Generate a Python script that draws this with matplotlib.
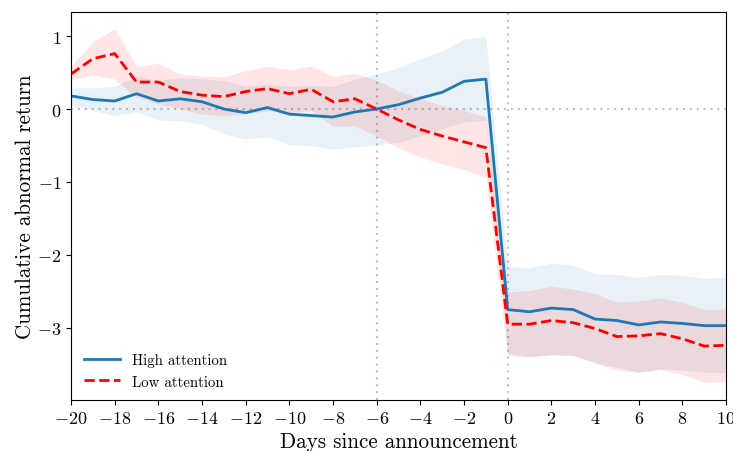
import numpy as np
import matplotlib
matplotlib.use("Agg")
import matplotlib.pyplot as plt

plt.rcParams['font.family'] = 'serif'
plt.rcParams['font.serif'] = ['cmr10', 'DejaVu Serif']
plt.rcParams['mathtext.fontset'] = 'cm'
plt.rcParams['axes.formatter.use_mathtext'] = True

days = list(range(-20, 11))

high = [0.18, 0.13, 0.11, 0.21, 0.11, 0.14, 0.10, 0.00, -0.05, 0.02, -0.07,
        -0.09, -0.11, -0.04, 0.00, 0.06, 0.15, 0.23, 0.38, 0.41,
        -2.75, -2.78, -2.73, -2.75, -2.88, -2.90, -2.96, -2.92, -2.94, -2.97, -2.97]
high_up = [0.29, 0.29, 0.31, 0.45, 0.39, 0.43, 0.41, 0.39, 0.31, 0.34, 0.31,
           0.32, 0.31, 0.41, 0.48, 0.57, 0.69, 0.80, 0.96, 0.99,
           -2.16, -2.18, -2.11, -2.14, -2.26, -2.27, -2.31, -2.27, -2.28, -2.32, -2.31]
high_lo = [0.05, -0.02, -0.09, -0.04, -0.15, -0.16, -0.21, -0.34, -0.41, -0.38, -0.49,
           -0.50, -0.55, -0.52, -0.49, -0.46, -0.37, -0.27, -0.18, -0.15,
           -3.35, -3.39, -3.37, -3.38, -3.49, -3.54, -3.61, -3.56, -3.58, -3.61, -3.61]

low = [0.48, 0.69, 0.76, 0.37, 0.37, 0.24, 0.19, 0.17, 0.24, 0.28, 0.21,
       0.27, 0.10, 0.14, 0.00, -0.15, -0.28, -0.37, -0.45, -0.53,
       -2.95, -2.95, -2.90, -2.93, -3.01, -3.12, -3.11, -3.08, -3.15, -3.25, -3.24]
low_up = [0.59, 0.92, 1.10, 0.58, 0.63, 0.48, 0.45, 0.44, 0.53, 0.58, 0.54,
          0.59, 0.45, 0.49, 0.39, 0.25, 0.14, 0.05, -0.02, -0.11,
          -2.51, -2.49, -2.43, -2.47, -2.53, -2.65, -2.63, -2.59, -2.65, -2.75, -2.74]
low_lo = [0.40, 0.47, 0.41, 0.16, 0.07, 0.00, -0.07, -0.09, -0.07, -0.02, -0.05,
          -0.02, -0.24, -0.23, -0.37, -0.53, -0.66, -0.75, -0.83, -0.94,
          -3.38, -3.40, -3.37, -3.38, -3.47, -3.58, -3.61, -3.57, -3.64, -3.75, -3.74]

fig = plt.figure(figsize=(7.33, 4.52), dpi=100)
ax = fig.add_axes([0.0969, 0.1128, 0.8936, 0.8584])

blue = '#1f77b4'
ax.fill_between(days, high_lo, high_up, color=blue, alpha=0.1, linewidth=0)
ax.fill_between(days, low_lo, low_up, color='red', alpha=0.1, linewidth=0)
ax.plot(days, high, color=blue, lw=2, label='High attention')
ax.plot(days, low, color='red', lw=2, ls='--', label='Low attention')

ref_kw = dict(color='#c0c0c0', lw=1.5, dashes=(1, 2.3), zorder=0.5)
ax.axhline(0, **ref_kw)
ax.axvline(-6, **ref_kw)
ax.axvline(0, **ref_kw)

ax.set_xlim(-20, 10)
ax.set_ylim(-3.99, 1.33)
ax.set_xticks(range(-20, 11, 2))
ax.set_yticks([-3, -2, -1, 0, 1])
ax.tick_params(labelsize=13)
ax.set_xlabel('Days since announcement', fontsize=15.2, labelpad=4)
ax.set_ylabel('Cumulative abnormal return', fontsize=15.2, labelpad=1.5)
ax.legend(loc='lower left', frameon=False, fontsize=10.7, handlelength=2.4,
          bbox_to_anchor=(0.0, -0.005))

fig.savefig('out.png', dpi=100)
